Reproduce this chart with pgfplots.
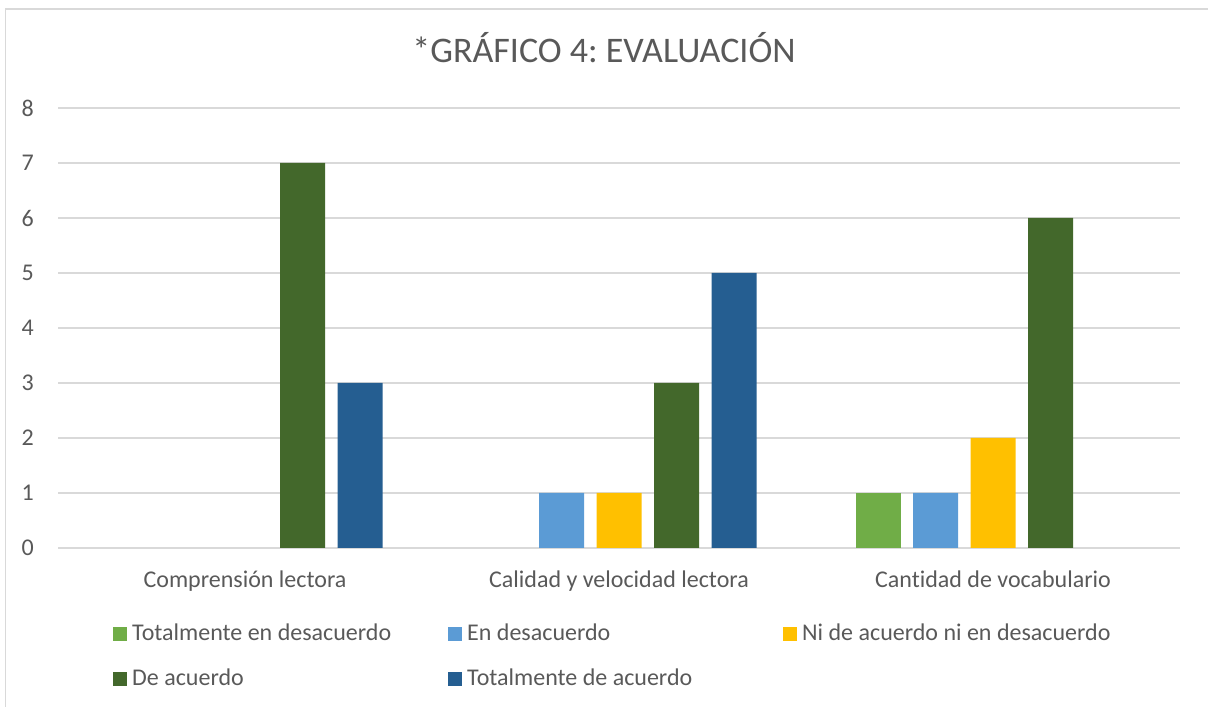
\documentclass[border=0pt]{standalone}
\usepackage{pgfplots}
\pgfplotsset{compat=1.18}
\usepackage{fontspec}
\setmainfont{Carlito}[Ligatures=NoCommon]
\frenchspacing
\definecolor{cLG}{HTML}{70AD47}
\definecolor{cLB}{HTML}{5B9BD5}
\definecolor{cYE}{HTML}{FFC000}
\definecolor{cDG}{HTML}{43682B}
\definecolor{cDB}{HTML}{255E91}
\definecolor{txt}{HTML}{595959}
\definecolor{grd}{HTML}{D9D9D9}
\newcommand{\lt}[1]{\hspace{5bp}\makebox[316bp][l]{#1}}
\begin{document}
\begin{tikzpicture}[x=1bp,y=1bp]
\path[use as bounding box] (0,0) rectangle (1208,707);
\draw[grd, line width=1.5bp] (5.5,0) -- (5.5,698) -- (1208,698);
\node[anchor=base, text=txt, font=\fontsize{36bp}{42bp}\selectfont, inner sep=0pt] at (604,644) {*GRÁFICO 4: EVALUACIÓN};
\begin{axis}[
  at={(58bp,159bp)}, anchor=south west,
  scale only axis, width=1122bp, height=440bp,
  xmin=-0.5, xmax=2.5, ymin=0, ymax=8,
  xtick={0,1,2},
  xticklabels={Comprensión lectora, Calidad y velocidad lectora, Cantidad de vocabulario},
  ytick={0,1,...,8},
  ymajorgrids, grid style={grd, line width=1.3bp},
  axis line style={draw=none},
  major tick length=0pt,
  tick label style={text=txt, font=\fontsize{24bp}{28bp}\selectfont},
  /pgf/number format/assume math mode=true,
  yticklabel style={anchor=east, inner sep=0pt, xshift=-24bp},
  xticklabel style={anchor=base, inner sep=0pt, yshift=-40bp},
  ybar=12.5bp, bar width=45bp,
  legend columns=3,
  legend style={at={(55bp,-75bp)}, anchor=north west, draw=none, fill=none,
    font=\fontsize{24bp}{28bp}\selectfont, text=txt,
    inner sep=0pt, row sep=23bp,
    nodes={inner sep=0pt, anchor=west, text height=17bp, text depth=5bp},
    /tikz/every even column/.append style={column sep=0bp}},
  legend cell align=left,
  legend image code/.code={\fill[#1] (0bp,-7bp) rectangle (14bp,7bp);},
]
% Totalmente en desacuerdo: 0, 0, 1
\addplot[fill=cLG, draw=none] coordinates {(2,1)};
\addlegendentry{\lt{Totalmente en desacuerdo}}
% En desacuerdo: 0, 1, 1
\addplot[fill=cLB, draw=none] coordinates {(1,1) (2,1)};
\addlegendentry{\lt{En desacuerdo}}
% Ni de acuerdo ni en desacuerdo: 0, 1, 2
\addplot[fill=cYE, draw=none] coordinates {(1,1) (2,2)};
\addlegendentry{\lt{Ni de acuerdo ni en desacuerdo}}
% De acuerdo: 7, 3, 6
\addplot[fill=cDG, draw=none] coordinates {(0,7) (1,3) (2,6)};
\addlegendentry{\lt{De acuerdo}}
% Totalmente de acuerdo: 3, 5, 0
\addplot[fill=cDB, draw=none] coordinates {(0,3) (1,5)};
\addlegendentry{\lt{Totalmente de acuerdo}}
\end{axis}
\end{tikzpicture}
\end{document}
